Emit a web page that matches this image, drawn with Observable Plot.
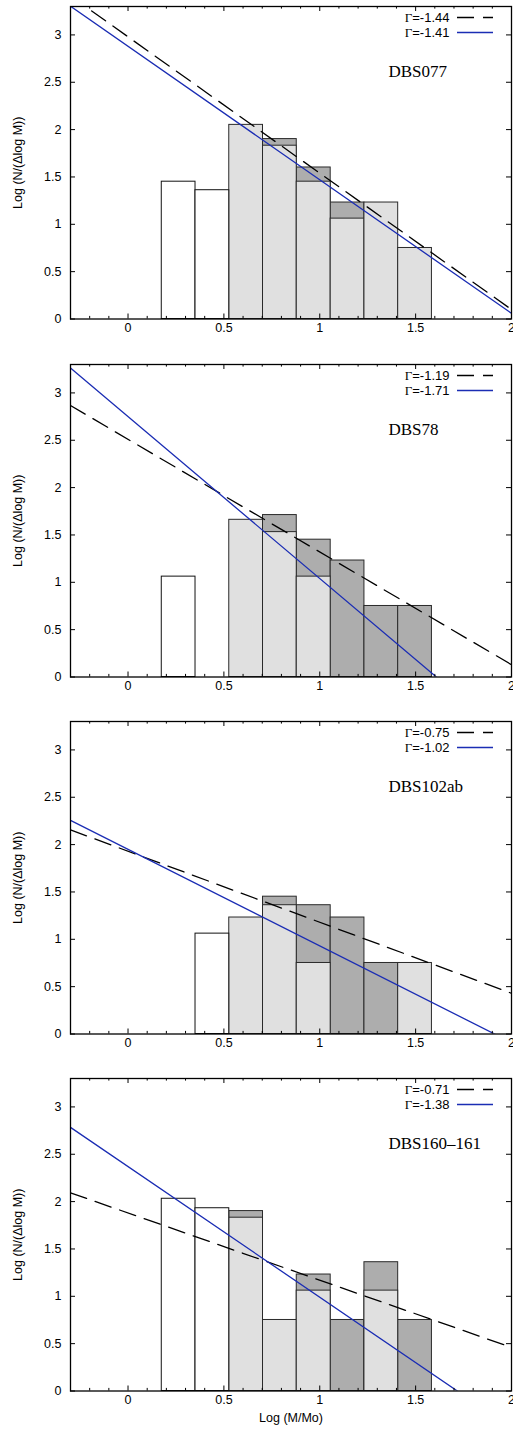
<!DOCTYPE html>
<html>
<head>
<meta charset="utf-8">
<script src="https://cdn.jsdelivr.net/npm/d3@7"></script>
<script src="https://cdn.jsdelivr.net/npm/@observablehq/plot@0.6"></script>
<style>
  html, body { margin: 0; padding: 0; background: white; }
  #chart svg { display: block; }
</style>
</head>
<body>
<div id="chart"></div>
<script>
// ---- data ----
const panelNames = ["DBS077", "DBS78", "DBS102ab", "DBS160–161"];
const binLo = [0.176, 0.352, 0.528, 0.704, 0.880, 1.057, 1.233, 1.409];
const binHi = [0.352, 0.528, 0.704, 0.880, 1.057, 1.233, 1.409, 1.585];
// Log(N/ΔlogM) per bin; null = no bar
const whiteBars = [
  [1.45, 1.36, null, null, null, null, null, null],
  [1.06, null, null, null, null, null, null, null],
  [null, 1.06, null, null, null, null, null, null],
  [2.03, 1.93, null, null, null, null, null, null]
];
const lightBars = [
  [null, null, 2.05, 1.83, 1.45, 1.06, 1.23, 0.75],
  [null, null, 1.66, 1.53, 1.06, null, null, null],
  [null, null, 1.23, 1.36, 0.75, null, null, 0.75],
  [null, null, 1.83, 0.75, 1.06, null, 1.06, null]
];
const darkBars = [
  [null, null, null, 1.90, 1.60, 1.23, null, null],
  [null, null, null, 1.71, 1.45, 1.23, 0.75, 0.75],
  [null, null, null, 1.45, 1.36, 1.23, 0.75, null],
  [null, null, 1.90, null, 1.23, 0.75, 1.36, 0.75]
];
const gammaDashed = [-1.44, -1.19, -0.75, -0.71];
const interceptDashed = [2.98, 2.51, 1.93, 1.88];
const gammaSolid = [-1.41, -1.71, -1.02, -1.38];
const interceptSolid = [2.88, 2.75, 1.95, 2.37];
const xDomain = [-0.3, 2];
const yDomain = [0, 3.3];
const xTicks = [0, 0.5, 1, 1.5, 2];
const xMinorTicks = [-0.2, -0.1, 0.1, 0.2, 0.3, 0.4, 0.6, 0.7, 0.8, 0.9, 1.1, 1.2, 1.3, 1.4, 1.6, 1.7, 1.8, 1.9];
const yTicks = [0, 0.5, 1, 1.5, 2, 2.5, 3];
const yLabel = "Log (N/(Δlog M))";
const xLabel = "Log (M/Mo)";

// ---- layout ----
const W = 513, ML = 70, MR = 2, MT = 6, AREA = 312.5;
const heights = [358, 357, 357, 360];
const sans = "'Liberation Sans', Arial, Helvetica, sans-serif";
const serif = "'Liberation Serif', 'Times New Roman', serif";
const blue = "#1b2db4";
const lightFill = "#e0e0e0", darkFill = "#adadad";
const dash = "17,9";

const xPerPx = (xDomain[1] - xDomain[0]) / (W - ML - MR);
const yPerPx = (yDomain[1] - yDomain[0]) / AREA;

function panel(i) {
  const H = heights[i];
  const rows = binLo.map((lo, k) => ({lo, hi: binHi[k], white: whiteBars[i][k], light: lightBars[i][k], dark: darkBars[i][k]}));
  const dashedLine = xDomain.map(x => ({x, y: interceptDashed[i] + gammaDashed[i] * x}));
  const solidLine = xDomain.map(x => ({x, y: interceptSolid[i] + gammaSolid[i] * x}));
  const legY1 = yDomain[1] - 11 * yPerPx;
  const legY2 = yDomain[1] - 26 * yPerPx;
  const legX1 = xDomain[0] + (457 - ML) * xPerPx;
  const legX2 = xDomain[0] + (493 - ML) * xPerPx;
  const majLen = 5 * yPerPx, minLen = 2.6 * yPerPx, yTickLen = 5 * xPerPx;

  const marks = [
    Plot.rect(rows.filter(r => r.dark != null), {x1: "lo", x2: "hi", y1: 0, y2: "dark", fill: darkFill, stroke: "#2a2a2a", strokeWidth: 1}),
    Plot.rect(rows.filter(r => r.light != null), {x1: "lo", x2: "hi", y1: 0, y2: "light", fill: lightFill, stroke: "#2a2a2a", strokeWidth: 1}),
    Plot.rect(rows.filter(r => r.white != null), {x1: "lo", x2: "hi", y1: 0, y2: "white", fill: "white", stroke: "#111", strokeWidth: 1}),
    Plot.line(dashedLine, {x: "x", y: "y", stroke: "black", strokeWidth: 1.3, strokeDasharray: dash, clip: true}),
    Plot.line(solidLine, {x: "x", y: "y", stroke: blue, strokeWidth: 1.3, clip: true}),
    // inward ticks (gnuplot style, mirrored)
    Plot.ruleX(xTicks, {x: d => d, y1: yDomain[0], y2: yDomain[0] + majLen, stroke: "black"}),
    Plot.ruleX(xTicks, {x: d => d, y1: yDomain[1], y2: yDomain[1] - majLen, stroke: "black"}),
    Plot.ruleX(xMinorTicks, {x: d => d, y1: yDomain[0], y2: yDomain[0] + minLen, stroke: "black"}),
    Plot.ruleX(xMinorTicks, {x: d => d, y1: yDomain[1], y2: yDomain[1] - minLen, stroke: "black"}),
    Plot.ruleY(yTicks, {y: d => d, x1: xDomain[0], x2: xDomain[0] + yTickLen, stroke: "black"}),
    Plot.ruleY(yTicks, {y: d => d, x1: xDomain[1], x2: xDomain[1] - yTickLen, stroke: "black"}),
    // legend
    Plot.text([`Γ=${gammaDashed[i].toFixed(2)}`], {frameAnchor: "top-right", dx: -(W - MR - 449), dy: 11, textAnchor: "end", lineAnchor: "middle", fontSize: 13, fill: "black"}),
    Plot.text([`Γ=${gammaSolid[i].toFixed(2)}`], {frameAnchor: "top-right", dx: -(W - MR - 449), dy: 26, textAnchor: "end", lineAnchor: "middle", fontSize: 13, fill: "black"}),
    Plot.ruleY([legY1], {y: d => d, x1: legX1, x2: legX2, stroke: "black", strokeWidth: 1.3, strokeDasharray: dash}),
    Plot.ruleY([legY2], {y: d => d, x1: legX1, x2: legX2, stroke: blue, strokeWidth: 1.3}),
    // panel name
    Plot.text([panelNames[i]], {frameAnchor: "top-left", dx: 388 - ML, dy: 65, textAnchor: "start", lineAnchor: "middle", fontFamily: serif, fontSize: 17, fill: "black"}),
    // y label
    Plot.text([yLabel], {frameAnchor: "left", dx: -53, rotate: -90, textAnchor: "middle", lineAnchor: "middle", fontSize: 12.5, fill: "black"}),
    Plot.frame({stroke: "black", strokeWidth: 1.3})
  ];
  if (i === 3) {
    marks.push(Plot.text([xLabel], {frameAnchor: "bottom", dy: 27, textAnchor: "middle", lineAnchor: "middle", fontSize: 12.5, fill: "black"}));
  }

  const svg = Plot.plot({
    width: W,
    height: H,
    marginLeft: ML,
    marginRight: MR,
    marginTop: MT,
    marginBottom: H - MT - AREA,
    style: {fontFamily: sans, fontSize: "12.5px", background: "white", color: "black", overflow: "visible"},
    x: {domain: xDomain, ticks: xTicks, tickSize: 0, tickPadding: 4, tickFormat: d => String(d), label: null},
    y: {domain: yDomain, ticks: yTicks, tickSize: 0, tickPadding: 9, tickFormat: d => String(d), label: null},
    marks
  });

  // Γ drawn in a serif face, as in the reference
  svg.querySelectorAll("text").forEach(t => {
    if (t.children.length === 0 && t.textContent.startsWith("Γ")) {
      const rest = t.textContent.slice(1);
      t.textContent = "";
      const g = document.createElementNS("http://www.w3.org/2000/svg", "tspan");
      g.setAttribute("font-family", serif);
      g.textContent = "Γ";
      t.appendChild(g);
      t.appendChild(document.createTextNode(rest));
    }
  });
  return svg;
}

const root = document.getElementById("chart");
for (let i = 0; i < 4; i++) root.appendChild(panel(i));
</script>
</body>
</html>
